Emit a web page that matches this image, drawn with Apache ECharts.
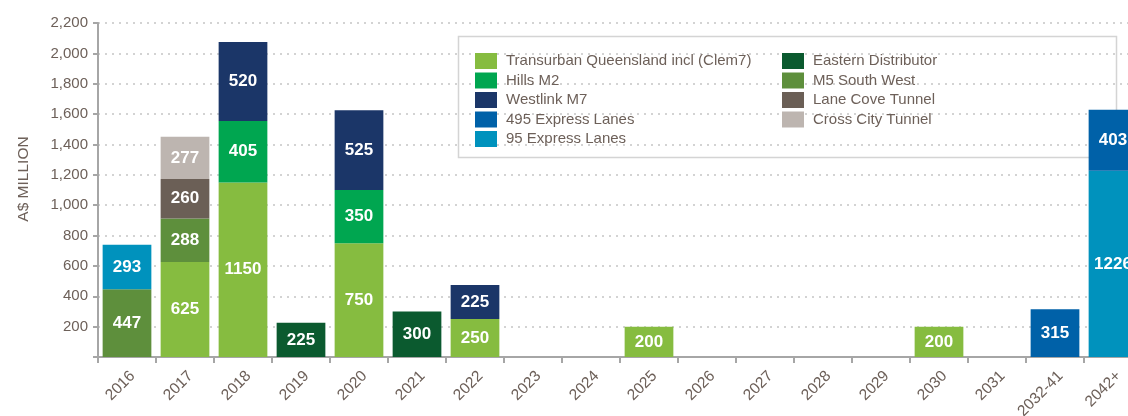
<!DOCTYPE html>
<html><head><meta charset="utf-8">
<script src="https://cdn.jsdelivr.net/npm/echarts@6/dist/echarts.min.js"></script>
<style>html,body{margin:0;padding:0;background:#fff}#c{width:1128px;height:416px}</style>
</head><body><div id="c"></div>
<script>
const categories = ['2016','2017','2018','2019','2020','2021','2022','2023','2024','2025','2026','2027','2028','2029','2030','2031','2032-41','2042+'];
const yTicks = [0,200,400,600,800,1000,1200,1400,1600,1800,2000,2200];
const transurbanQld = [null,625,1150,null,750,null,250,null,null,200,null,null,null,null,200,null,null,null];
const easternDistributor = [null,null,null,225,null,300,null,null,null,null,null,null,null,null,null,null,null,null];
const m5SouthWest = [447,288,null,null,null,null,null,null,null,null,null,null,null,null,null,null,null,null];
const hillsM2 = [null,null,405,null,350,null,null,null,null,null,null,null,null,null,null,null,null,null];
const laneCoveTunnel = [null,260,null,null,null,null,null,null,null,null,null,null,null,null,null,null,null,null];
const crossCityTunnel = [null,277,null,null,null,null,null,null,null,null,null,null,null,null,null,null,null,null];
const express95 = [293,null,null,null,null,null,null,null,null,null,null,null,null,null,null,null,null,1226];
const express495 = [null,null,null,null,null,null,null,null,null,null,null,null,null,null,null,null,315,403];
const westlinkM7 = [null,null,520,null,525,null,225,null,null,null,null,null,null,null,null,null,null,null];

const seriesDefs = [
  ['Transurban Queensland incl (Clem7)', transurbanQld, '#86bc40'],
  ['Eastern Distributor', easternDistributor, '#0b5a2f'],
  ['M5 South West', m5SouthWest, '#5e8f3c'],
  ['Hills M2', hillsM2, '#00a650'],
  ['Lane Cove Tunnel', laneCoveTunnel, '#6b5f56'],
  ['Cross City Tunnel', crossCityTunnel, '#bdb5b0'],
  ['95 Express Lanes', express95, '#0092bd'],
  ['495 Express Lanes', express495, '#0061a8'],
  ['Westlink M7', westlinkM7, '#1b3668']
];
const legendCol1 = ['Transurban Queensland incl (Clem7)','Hills M2','Westlink M7','495 Express Lanes','95 Express Lanes'];
const legendCol2 = ['Eastern Distributor','M5 South West','Lane Cove Tunnel','Cross City Tunnel'];

const txt = '#6d6059';
const font = 'Liberation Sans, Arial, sans-serif';
const chart = echarts.init(document.getElementById('c'), null, {renderer:'canvas'});
const legendBase = {
  orient:'vertical', itemWidth:22, itemHeight:16, itemGap:3.5, icon:'rect',
  textStyle:{color:txt, fontSize:15, fontFamily:font, padding:[0,0,0,4]}, padding:0,
  selectedMode:false
};
chart.setOption({
  animation:false,
  textStyle:{fontFamily:font},
  grid:{left:98, top:23, width:1044, height:334, outerBoundsMode:'none'},
  legend:[
    Object.assign({}, legendBase, {data:legendCol1, left:475, top:53}),
    Object.assign({}, legendBase, {data:legendCol2, left:782, top:53})
  ],
  graphic:[{type:'rect', shape:{x:458.5, y:36.5, width:658, height:121}, style:{fill:'none', stroke:'#d4d4d4', lineWidth:1.5}, z:-1}],
  xAxis:{
    type:'category', data:categories,
    axisLine:{lineStyle:{color:'#a6a6a6', width:2}},
    axisTick:{show:true, alignWithLabel:false, length:6, lineStyle:{color:'#a6a6a6', width:2}},
    axisLabel:{rotate:45, color:txt, fontSize:15.5, fontFamily:font, margin:11, interval:0, verticalAlign:'top'}
  },
  yAxis:{
    type:'value', min:0, max:2200, interval:200,
    name:'A$ MILLION', nameLocation:'middle', nameRotate:90, nameGap:66,
    nameTextStyle:{color:txt, fontSize:15.5, fontFamily:font, padding:[0,0,0,22]},
    axisLine:{show:true, lineStyle:{color:'#a6a6a6', width:2}},
    axisTick:{show:true, length:5, lineStyle:{color:'#a6a6a6', width:2}},
    axisLabel:{color:txt, fontSize:15, fontFamily:font, margin:10,
      formatter:v => v===0 ? '' : v.toLocaleString('en-US')},
    splitLine:{show:true, lineStyle:{color:'#d3d3d3', width:2, type:[2,5]}}
  },
  series: seriesDefs.map(([name,data,color]) => ({
    name, type:'bar', stack:'total', data, barCategoryGap:'16%',
    itemStyle:{color},
    label:{show:true, position:'inside', color:'#fff', fontSize:17, fontWeight:'bold', fontFamily:font,
      formatter:p => p.value==null ? '' : String(p.value)}
  }))
});
</script></body></html>
